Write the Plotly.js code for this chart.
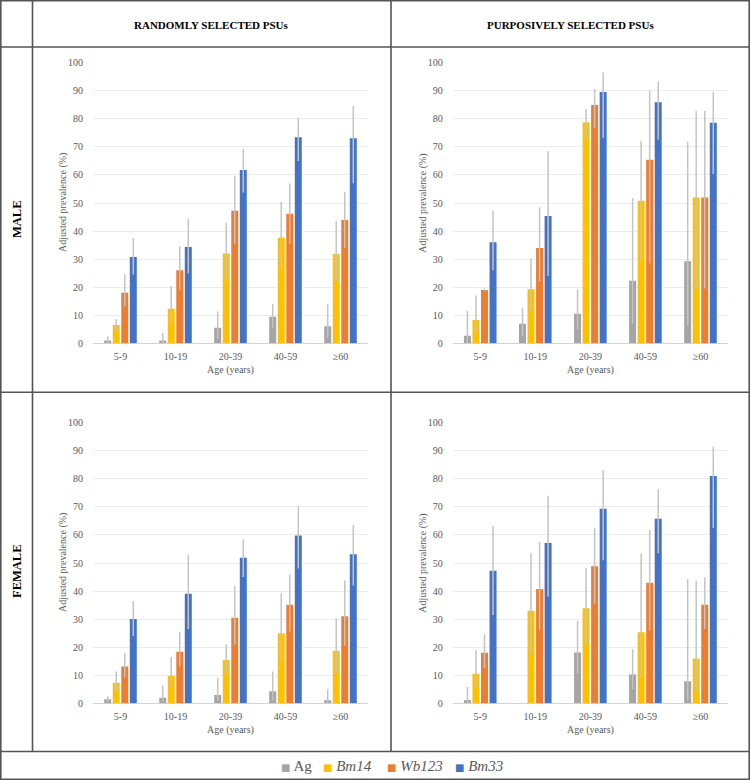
<!DOCTYPE html>
<html>
<head>
<meta charset="utf-8">
<script src="https://cdn.plot.ly/plotly-3.0.1.min.js"></script>
<style>html,body{margin:0;padding:0;background:#fff;}#chart{width:750px;height:780px;}</style>
</head>
<body>
<div id="chart"></div>
<script>
// ---------- DATA ----------
const categories = ['5-9', '10-19', '20-39', '40-59', '\u226560'];
const seriesNames = ['Ag', 'Bm14', 'Wb123', 'Bm33'];
const seriesItalic = [false, true, true, true];
const panelTitles = ['RANDOMLY SELECTED PSUs', 'PURPOSIVELY SELECTED PSUs'];
const rowTitles = ['MALE', 'FEMALE'];
const yTitle = 'Adjusted prevalence (%)';
const xTitle = 'Age (years)';

// Male, randomly selected PSUs
const mrAg = [1.0, 1.0, 5.5, 9.5, 6.1];
const mrAgLo = [0, 0, 1.5, 5.5, 2.0];
const mrAgHi = [2.5, 3.7, 11.3, 14.0, 13.9];
const mrBm14 = [6.5, 12.3, 32.0, 37.6, 31.8];
const mrBm14Lo = [4.0, 7.0, 23.0, 26.5, 22.2];
const mrBm14Hi = [8.7, 20.4, 43.0, 50.4, 43.6];
const mrWb123 = [18.0, 26.0, 47.2, 46.2, 43.9];
const mrWb123Lo = [13.0, 19.0, 35.5, 35.5, 34.0];
const mrWb123Hi = [24.6, 34.6, 59.4, 57.0, 54.0];
const mrBm33 = [30.8, 34.3, 61.8, 73.4, 73.1];
const mrBm33Lo = [24.5, 25.0, 53.7, 65.0, 57.0];
const mrBm33Hi = [37.5, 44.5, 69.3, 80.2, 84.6];

// Male, purposively selected PSUs
const mpAg = [2.7, 7.0, 10.5, 22.3, 29.2];
const mpAgLo = [0, 2.5, 5.0, 7.0, 6.3];
const mpAgHi = [11.5, 12.7, 19.3, 51.8, 71.8];
const mpBm14 = [8.3, 19.3, 78.8, 50.8, 52.0];
const mpBm14Lo = [3.5, 11.5, 73.0, 29.5, 19.5];
const mpBm14Hi = [17.0, 30.2, 83.6, 72.1, 82.8];
const mpWb123 = [19.0, 34.0, 84.9, 65.4, 52.0];
const mpWb123Lo = [18.5, 22.0, 76.7, 28.5, 19.5];
const mpWb123Hi = [19.5, 48.5, 90.6, 90.0, 82.8];
const mpBm33 = [36.0, 45.4, 89.6, 85.9, 78.6];
const mpBm33Lo = [26.0, 24.0, 73.2, 72.5, 60.3];
const mpBm33Hi = [47.3, 68.5, 96.5, 93.3, 89.6];

// Female, randomly selected PSUs
const frAg = [1.4, 2.0, 3.0, 4.3, 1.1];
const frAgLo = [0.5, 0.5, 0.8, 1.0, 0.1];
const frAgHi = [2.5, 6.3, 9.1, 11.3, 5.1];
const frBm14 = [7.3, 9.8, 15.4, 25.0, 18.7];
const frBm14Lo = [4.0, 5.5, 10.5, 14.5, 10.5];
const frBm14Hi = [11.3, 16.5, 21.0, 39.2, 30.2];
const frWb123 = [13.1, 18.4, 30.5, 35.1, 31.0];
const frWb123Lo = [9.3, 13.0, 21.0, 25.5, 20.5];
const frWb123Hi = [18.0, 25.5, 41.8, 46.0, 43.8];
const frBm33 = [30.0, 39.0, 51.9, 59.8, 53.1];
const frBm33Lo = [24.0, 26.5, 45.0, 48.0, 42.0];
const frBm33Hi = [36.5, 53.0, 58.5, 70.3, 63.5];

// Female, purposively selected PSUs
const fpAg = [1.2, null, 18.1, 10.3, 7.9];
const fpAgLo = [0, null, 10.5, 5.0, 1.0];
const fpAgHi = [5.8, null, 29.3, 19.3, 44.2];
const fpBm14 = [10.5, 33.0, 33.9, 25.3, 16.0];
const fpBm14Lo = [5.5, 17.5, 21.5, 9.0, 4.5];
const fpBm14Hi = [19.0, 53.5, 48.2, 53.4, 43.7];
const fpWb123 = [18.0, 40.7, 48.8, 43.0, 35.1];
const fpWb123Lo = [12.5, 26.0, 35.5, 26.0, 26.5];
const fpWb123Hi = [24.6, 57.5, 62.4, 61.8, 44.9];
const fpBm33 = [47.2, 57.1, 69.3, 65.8, 81.0];
const fpBm33Lo = [31.5, 38.0, 51.0, 53.5, 62.5];
const fpBm33Hi = [63.2, 74.0, 83.1, 76.3, 91.5];

// ---------- STYLE / LAYOUT ----------
const colors = ['#A5A5A5', '#FFC000', '#ED7D31', '#4472C4'];
const FONT = "'Liberation Serif', 'Times New Roman', Times, serif";
const W = 750, H = 780;
const px = x => x / W;
const py = y => 1 - y / H;

const panels = [
  {sets: [[mrAg, mrAgLo, mrAgHi], [mrBm14, mrBm14Lo, mrBm14Hi], [mrWb123, mrWb123Lo, mrWb123Hi], [mrBm33, mrBm33Lo, mrBm33Hi]],
   x0: 93, x1: 368, y0: 62.7, y1: 343.3},
  {sets: [[mpAg, mpAgLo, mpAgHi], [mpBm14, mpBm14Lo, mpBm14Hi], [mpWb123, mpWb123Lo, mpWb123Hi], [mpBm33, mpBm33Lo, mpBm33Hi]],
   x0: 452.7, x1: 728, y0: 62.7, y1: 343.3},
  {sets: [[frAg, frAgLo, frAgHi], [frBm14, frBm14Lo, frBm14Hi], [frWb123, frWb123Lo, frWb123Hi], [frBm33, frBm33Lo, frBm33Hi]],
   x0: 93, x1: 368, y0: 422.7, y1: 703.3},
  {sets: [[fpAg, fpAgLo, fpAgHi], [fpBm14, fpBm14Lo, fpBm14Hi], [fpWb123, fpWb123Lo, fpWb123Hi], [fpBm33, fpBm33Lo, fpBm33Hi]],
   x0: 452.7, x1: 728, y0: 422.7, y1: 703.3}
];

const data = [];
const layout = {
  width: W, height: H,
  margin: {l: 0, r: 0, t: 0, b: 0},
  paper_bgcolor: '#ffffff', plot_bgcolor: '#ffffff',
  barmode: 'group', bargap: 0.38, bargroupgap: 0.18,
  showlegend: false,
  font: {family: FONT, color: '#595959'},
  annotations: [], shapes: []
};

panels.forEach((p, i) => {
  const k = i === 0 ? '' : String(i + 1);
  p.sets.forEach((s, j) => {
    const v = s[0], lo = s[1], hi = s[2];
    data.push({
      type: 'bar', x: categories, y: v,
      xaxis: 'x' + k, yaxis: 'y' + k,
      name: seriesNames[j],
      marker: {color: colors[j]},
      error_y: {
        type: 'data', symmetric: false,
        array: v.map((d, n) => d == null ? 0 : hi[n] - d),
        arrayminus: v.map((d, n) => d == null ? 0 : d - lo[n]),
        color: '#c4c4c4', thickness: 1.5, width: 0
      },
      hoverinfo: 'skip'
    });
  });
  layout['xaxis' + k] = {
    domain: [px(p.x0), px(p.x1)], anchor: 'y' + k,
    type: 'category', range: [-0.5, 4.5],
    showgrid: false, showline: false, zeroline: false,
    ticks: 'outside', ticklen: 4, tickcolor: 'rgba(0,0,0,0)',
    tickfont: {family: FONT, size: 10, color: '#595959'}, fixedrange: true
  };
  layout['yaxis' + k] = {
    domain: [py(p.y1), py(p.y0)], anchor: 'x' + k,
    range: [0, 100], dtick: 10, tick0: 0,
    showgrid: true, gridcolor: '#ececec', gridwidth: 1,
    zeroline: true, zerolinecolor: '#d4d4d4', zerolinewidth: 1,
    showline: false,
    ticks: 'outside', ticklen: 7, tickcolor: 'rgba(0,0,0,0)',
    tickfont: {family: FONT, size: 10, color: '#595959'}, fixedrange: true
  };
  // axis titles
  layout.annotations.push({
    xref: 'paper', yref: 'paper', x: px(p.x0 - 30), y: py((p.y0 + p.y1) / 2),
    text: yTitle, textangle: -90, showarrow: false,
    xanchor: 'center', yanchor: 'middle',
    font: {family: FONT, size: 10, color: '#595959'}
  });
  layout.annotations.push({
    xref: 'paper', yref: 'paper', x: px((p.x0 + p.x1) / 2), y: py(p.y1 + 27),
    text: xTitle, showarrow: false, xanchor: 'center', yanchor: 'middle',
    font: {family: FONT, size: 10, color: '#595959'}
  });
});

// header / row labels
layout.annotations.push({xref: 'paper', yref: 'paper', x: px(211.5), y: py(25),
  text: '<b>' + panelTitles[0] + '</b>', showarrow: false, xanchor: 'center', yanchor: 'middle',
  font: {family: FONT, size: 11, color: '#000'}});
layout.annotations.push({xref: 'paper', yref: 'paper', x: px(570), y: py(25),
  text: '<b>' + panelTitles[1] + '</b>', showarrow: false, xanchor: 'center', yanchor: 'middle',
  font: {family: FONT, size: 11, color: '#000'}});
layout.annotations.push({xref: 'paper', yref: 'paper', x: px(16.5), y: py(219.5),
  text: '<b>' + rowTitles[0] + '</b>', textangle: -90, showarrow: false, xanchor: 'center', yanchor: 'middle',
  font: {family: FONT, size: 12.5, color: '#000'}});
layout.annotations.push({xref: 'paper', yref: 'paper', x: px(16.5), y: py(571.5),
  text: '<b>' + rowTitles[1] + '</b>', textangle: -90, showarrow: false, xanchor: 'center', yanchor: 'middle',
  font: {family: FONT, size: 12.5, color: '#000'}});

// legend row (built from series names and colours)
const legendX = [279, 321, 385, 453];
seriesNames.forEach((n, j) => {
  const label = seriesItalic[j] ? '<i>' + n + '</i>' : n;
  layout.annotations.push({xref: 'paper', yref: 'paper', x: px(legendX[j]), y: py(765.5),
    text: '<span style="color:' + colors[j] + ';font-size:10px;font-family:DejaVu Sans">\u25A0</span> ' + label,
    showarrow: false, xanchor: 'left', yanchor: 'middle',
    font: {family: FONT, size: 15, color: '#595959'}});
});

// table lines
const lineStyle = {color: '#555555', width: 1.6};
const addLine = (x0, y0, x1, y1) => layout.shapes.push({type: 'line', xref: 'paper', yref: 'paper',
  x0: px(x0), y0: py(y0), x1: px(x1), y1: py(y1), line: lineStyle});
addLine(0.8, 0, 0.8, 780);
addLine(749.2, 0, 749.2, 780);
addLine(0, 0.8, 750, 0.8);
addLine(0, 779.2, 750, 779.2);
addLine(32.5, 0, 32.5, 751.5);
addLine(391, 0, 391, 751.5);
addLine(0, 47, 750, 47);
addLine(0, 392.3, 750, 392.3);
addLine(0, 751.5, 750, 751.5);

Plotly.newPlot('chart', data, layout, {staticPlot: true, displayModeBar: false});
</script>
</body>
</html>
